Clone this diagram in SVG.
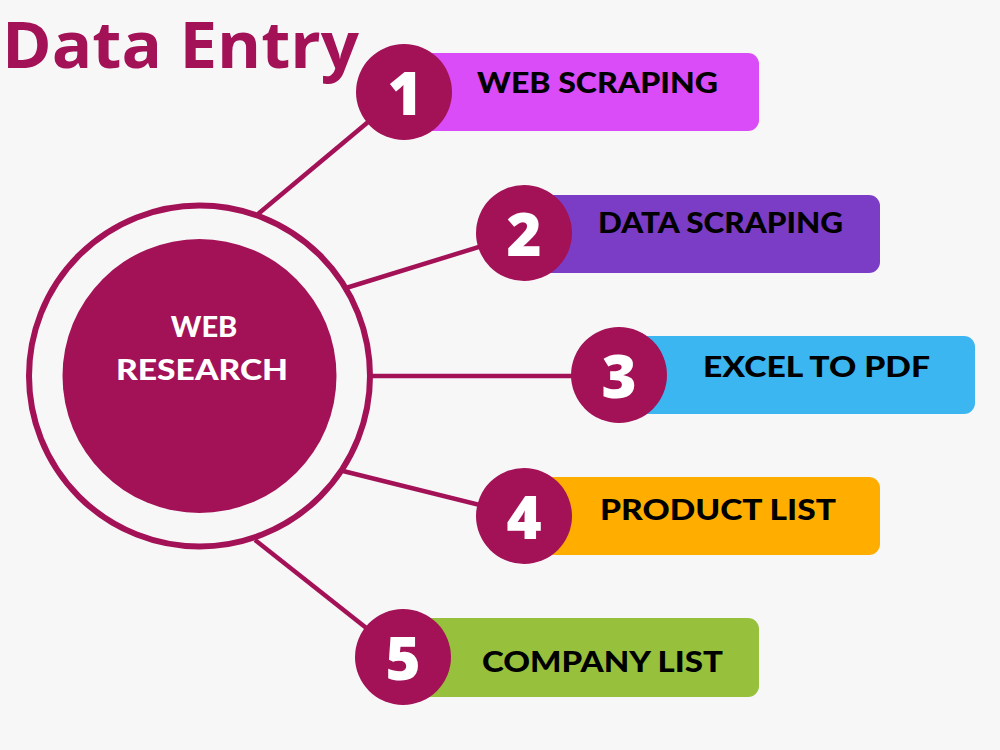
<svg xmlns="http://www.w3.org/2000/svg" width="1000" height="750" viewBox="0 0 1000 750">
<style>
.bg{fill:#f7f7f7}
.conn line{stroke:#a31157;stroke-width:4.5;stroke-linecap:butt}
.num{fill:#a31157}
.numt{fill:#ffffff;font-family:"Open Sans","Liberation Sans",sans-serif;font-weight:800;font-size:60px;text-anchor:middle}
.lbl{fill:#000000;font-family:"Lato","Liberation Sans",sans-serif;font-weight:900;font-size:29px}
.hub{fill:#ffffff;font-family:"Lato","Liberation Sans",sans-serif;font-weight:900;font-size:29px;text-anchor:middle}
.title{fill:#a31157;font-family:"Open Sans","Liberation Sans",sans-serif;font-weight:700;font-size:65px}
</style>
<rect class="bg" x="0" y="0" width="1000" height="750"/>
<text class="title" x="2" y="68" textLength="357" lengthAdjust="spacingAndGlyphs">Data Entry</text>
<g id="connectors" class="conn">
<line x1="258" y1="214" x2="404" y2="92"/>
<line x1="346" y1="288" x2="524" y2="233"/>
<line x1="371" y1="376" x2="619" y2="376"/>
<line x1="343" y1="471" x2="524" y2="516"/>
<line x1="255" y1="540" x2="403" y2="657"/>
</g>
<g id="hub">
<circle cx="199.5" cy="376" r="170.5" fill="none" stroke="#a31157" stroke-width="6"/>
<circle cx="199.5" cy="376" r="137" fill="#a31157"/>
<text class="hub" x="204" y="337">WEB</text>
<text class="hub" x="202" y="380" textLength="172" lengthAdjust="spacingAndGlyphs">RESEARCH</text>
</g>
<g id="item1">
<rect x="404" y="53" width="355" height="78" rx="11" fill="#d94cf7"/>
<circle class="num" cx="404" cy="92" r="48"/>
<text class="numt" x="405" y="115">1</text>
<text class="lbl" x="477" y="93" textLength="241" lengthAdjust="spacingAndGlyphs">WEB SCRAPING</text>
</g>
<g id="item2">
<rect x="524" y="195" width="356" height="78" rx="11" fill="#7b3cc6"/>
<circle class="num" cx="524" cy="233" r="48"/>
<text class="numt" x="524" y="256">2</text>
<text class="lbl" x="598" y="233" textLength="245" lengthAdjust="spacingAndGlyphs">DATA SCRAPING</text>
</g>
<g id="item3">
<rect x="619" y="336" width="356" height="78" rx="11" fill="#3bb6f0"/>
<circle class="num" cx="619" cy="375" r="48"/>
<text class="numt" x="619" y="398">3</text>
<text class="lbl" x="703" y="377" textLength="227" lengthAdjust="spacingAndGlyphs">EXCEL TO PDF</text>
</g>
<g id="item4">
<rect x="524" y="477" width="356" height="78" rx="11" fill="#ffae00"/>
<circle class="num" cx="524" cy="516" r="48"/>
<text class="numt" x="524" y="539">4</text>
<text class="lbl" x="600" y="520" textLength="236" lengthAdjust="spacingAndGlyphs">PRODUCT LIST</text>
</g>
<g id="item5">
<rect x="403" y="618" width="356" height="79" rx="11" fill="#97c13c"/>
<circle class="num" cx="403" cy="657" r="48"/>
<text class="numt" x="403" y="680">5</text>
<text class="lbl" x="482" y="672" textLength="241" lengthAdjust="spacingAndGlyphs">COMPANY LIST</text>
</g>
</svg>
